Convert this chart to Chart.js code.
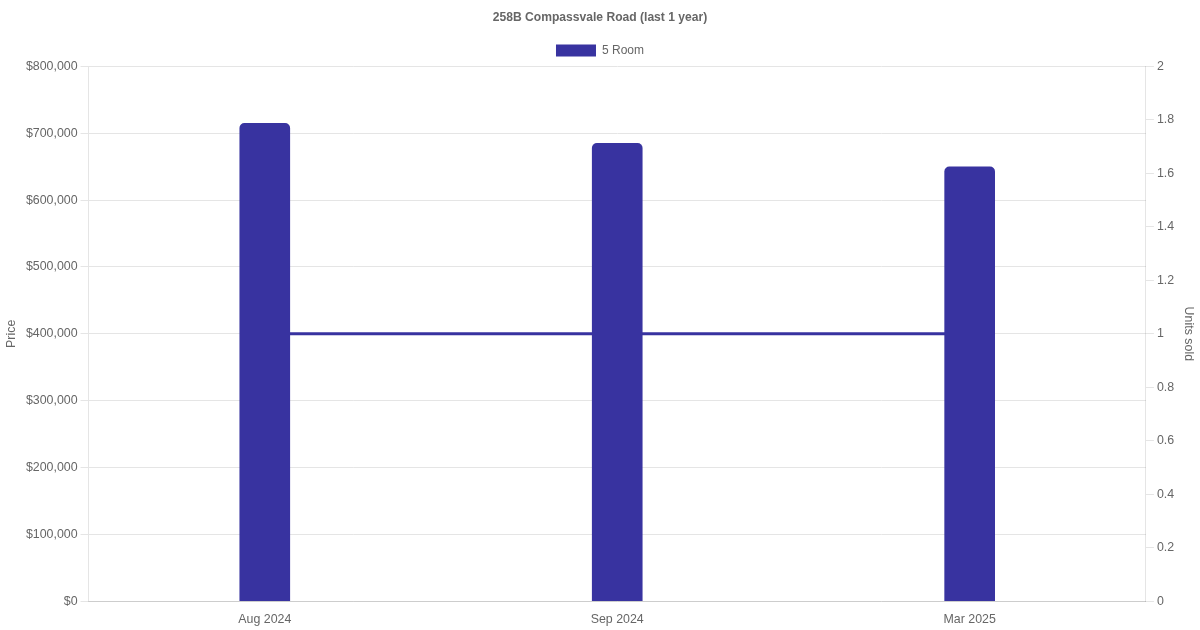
<!DOCTYPE html>
<html>
<head>
<meta charset="utf-8">
<script src="https://cdn.jsdelivr.net/npm/chart.js@4"></script>
<style>
  html, body { margin: 0; padding: 0; background: #fff; }
  #wrap { width: 1200px; height: 630px; }
</style>
</head>
<body>
<div id="wrap"><canvas id="priceChart"></canvas></div>
<script>
// Data
const months = ["Aug 2024", "Sep 2024", "Mar 2025"];
const prices = [715000, 685000, 650000];
const unitsSold = [1, 1, 1];

Chart.defaults.font.family = "'Liberation Sans', Arial, Helvetica, sans-serif";
Chart.defaults.font.size = 12.4;
Chart.defaults.color = "#666";

const ctx = document.getElementById("priceChart").getContext("2d");
new Chart(ctx, {
  type: "bar",
  data: {
    labels: months,
    datasets: [
      {
        type: "line",
        label: "Units sold",
        data: unitsSold,
        yAxisID: "units",
        borderColor: "#3833a0",
        backgroundColor: "#3833a0",
        borderWidth: 3,
        pointRadius: 0,
        fill: false,
        order: 2,
      },
      {
        label: "5 Room",
        data: prices,
        yAxisID: "price",
        backgroundColor: "#3833a0",
        borderColor: "#3833a0",
        borderRadius: 5,
        borderSkipped: "bottom",
        barThickness: 50,
        order: 1,
      },
    ],
  },
  options: {
    responsive: true,
    maintainAspectRatio: false,
    animation: false,
    layout: { padding: { left: 0, right: 0, top: 0, bottom: 0 } },
    plugins: {
      title: {
        display: true,
        text: "258B Compassvale Road (last 1 year)",
        font: { size: 12.1, weight: "bold" },
        color: "#666",
        padding: { top: 10, bottom: 10 },
      },
      legend: {
        labels: {
          filter: (item) => item.text === "5 Room",
          boxWidth: 40,
          boxHeight: 12,
          font: { size: 12 },
        },
      },
      tooltip: { enabled: false },
    },
    scales: {
      x: {
        grid: { display: false },
        ticks: { color: "#666" },
      },
      price: {
        position: "left",
        min: 0,
        max: 800000,
        ticks: {
          stepSize: 100000,
          callback: (v) => "$" + v.toLocaleString("en-US"),
        },
        title: { display: true, text: "Price" },
        grid: { color: "#e5e5e5" },
      },
      units: {
        position: "right",
        min: 0,
        max: 2,
        ticks: {
          stepSize: 0.2,
          callback: (v) => String(Math.round(v * 10) / 10),
        },
        title: { display: true, text: "Units sold" },
        grid: { drawOnChartArea: false, color: "#e5e5e5" },
      },
    },
  },
});
</script>
</body>
</html>
